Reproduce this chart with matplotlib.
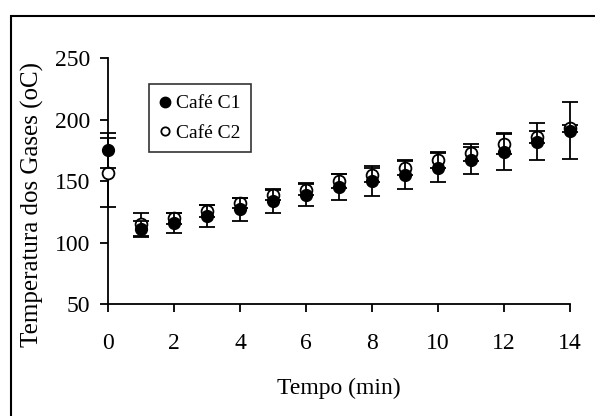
import matplotlib
matplotlib.use("Agg")
import matplotlib.pyplot as plt
from matplotlib.patches import Rectangle
from matplotlib.lines import Line2D

plt.rcParams['font.family'] = ['Liberation Serif', 'DejaVu Serif']

# Tempo (min)
tempo = [0, 1, 2, 3, 4, 5, 6, 7, 8, 9, 10, 11, 12, 13, 14]

# Café C1: mean and error
c1 = [175, 111, 116, 122, 127, 134, 139, 145, 150, 155, 161, 167, 174, 182, 191]
c1_err = [14, 6.5, 8, 9, 9, 9.5, 9.5, 10.5, 12, 11, 12, 11, 15, 15, 23]

# Café C2: mean and error
c2 = [157, 115, 120, 126, 132, 139, 143, 150, 155, 161, 167, 173, 180, 186, 193]
c2_err = [28, 9.5, 4.5, 5, 4, 4, 4.5, 5.5, 5.5, 6, 6.5, 7, 8, 5, 3]

fig = plt.figure(figsize=(5.95, 4.16), dpi=100)
ax = fig.add_axes([0.1815, 0.269, 0.7765, 0.591])

# open markers first, filled ones on top
ax.errorbar(tempo, c2, yerr=c2_err, fmt='o', ms=8.5, mfc='white', mec='black',
            mew=1.3, ecolor='black', elinewidth=1.3, capsize=5.5, capthick=1.3,
            clip_on=False, zorder=3)
ax.errorbar(tempo, c1, yerr=c1_err, fmt='o', ms=8.5, mfc='black', mec='black',
            ecolor='black', elinewidth=1.3, capsize=5.5, capthick=1.3,
            clip_on=False, zorder=4)

ax.set_xlim(0, 14)
ax.set_ylim(50, 250)
ax.set_xticks(range(0, 15, 2))
ax.set_yticks(range(50, 251, 50))
for side in ['top', 'right']:
    ax.spines[side].set_visible(False)
for side in ['left', 'bottom']:
    ax.spines[side].set_linewidth(1.3)
ax.tick_params(direction='out', length=6, width=1.3, labelsize=17)
ax.tick_params(axis='x', pad=15)
ax.tick_params(axis='y', pad=7)

ax.set_xlabel('Tempo (min)', fontsize=17)
ax.set_ylabel('Temperatura dos Gases (oC)', fontsize=18)
ax.xaxis.label.set_va('center')
ax.yaxis.label.set_va('center')
ax.xaxis.set_label_coords(0.5, -0.342)
ax.yaxis.set_label_coords(-0.1645, 0.405)

handles = [Line2D([], [], ls='none', marker='o', ms=7.5, mfc='black', mec='black'),
           Line2D([], [], ls='none', marker='o', ms=6, mfc='white', mec='black', mew=1.3)]
leg = ax.legend(handles, ['Café C1', 'Café C2'], loc='upper left',
                bbox_to_anchor=(0.088, 0.895), fontsize=14, frameon=True,
                fancybox=False, edgecolor='black', handlelength=0.6,
                handletextpad=0.25, borderpad=0.55, labelspacing=0.6,
                borderaxespad=0)
leg.get_frame().set_linewidth(1.2)

# outer chart border, partly cut off at right and bottom
fig.patches.append(Rectangle((0.018, -0.1), 1.2, 1.062, transform=fig.transFigure,
                             fill=False, edgecolor='black', linewidth=1.5))

fig.savefig('out.png', dpi=100)
